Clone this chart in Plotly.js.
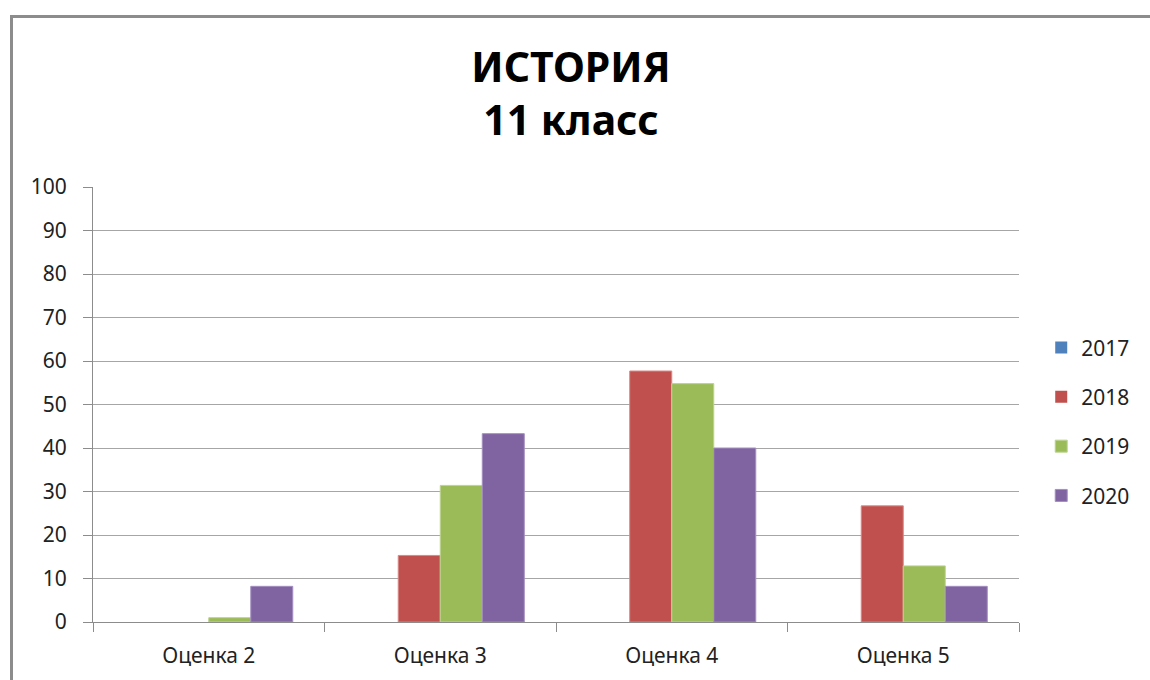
<!DOCTYPE html>
<html>
<head>
<meta charset="utf-8">
<script src="https://cdn.plot.ly/plotly-3.0.1.min.js"></script>
<style>
  html, body { margin: 0; padding: 0; background: #fff; }
  #frame { position: absolute; left: 10px; top: 15px; width: 1160px; height: 700px;
           border-left: 3px solid #8c8c8c; border-top: 3px solid #8c8c8c; box-sizing: border-box; }
  #chart { position: absolute; left: 0; top: 0; width: 1150px; height: 680px; }
</style>
</head>
<body>
<div id="frame"></div>
<div id="chart"></div>
<script>
const categories = ["Оценка 2", "Оценка 3", "Оценка 4", "Оценка 5"];
const years = ["2017", "2018", "2019", "2020"];
const values2017 = [0, 0, 0, 0];
const values2018 = [0, 15.3, 57.7, 26.7];
const values2019 = [1, 31.4, 54.8, 12.9];
const values2020 = [8.2, 43.3, 40, 8.2];
const yTicks = [0, 10, 20, 30, 40, 50, 60, 70, 80, 90, 100];
const colors = ["#4F81BD", "#C0504D", "#9BBB59", "#8064A2"];
const lineColors = ["#7fa3d0", "#d98886", "#bcd48f", "#a48fc0"];

const series = [values2017, values2018, values2019, values2020];
const FONT = "Noto Sans, Open Sans, sans-serif";

const data = series.map((vals, i) => ({
  type: "bar",
  name: years[i],
  x: categories,
  y: vals,
  legendgroup: years[i],
  marker: {
    color: colors[i],
    line: { color: lineColors[i], width: vals.map(v => (v > 0 ? 1 : 0)) }
  },
  hoverinfo: "x+y+name"
}));

const layout = {
  width: 1150,
  height: 680,
  paper_bgcolor: "rgba(0,0,0,0)",
  plot_bgcolor: "rgba(0,0,0,0)",
  margin: { l: 93, r: 131, t: 187, b: 58, autoexpand: false },
  title: {
    text: "<b>ИСТОРИЯ</b><br><b>11 класс</b>",
    font: { family: FONT, size: 41, color: "#000" },
    xref: "container", x: 0.4965, xanchor: "center",
    yref: "container", y: 1 - 82 / 680, yanchor: "top"
  },
  barmode: "group",
  bargap: 0.274,
  bargroupgap: 0,
  showlegend: true,
  legend: {
    x: 1.024, xanchor: "left",
    y: 0.46, yanchor: "middle",
    traceorder: "grouped",
    tracegroupgap: 19,
    font: { family: FONT, size: 21, color: "#222" },
    bgcolor: "rgba(0,0,0,0)"
  },
  xaxis: {
    type: "category",
    tickson: "boundaries",
    ticks: "outside",
    ticklen: 9,
    tickcolor: "#8c8c8c",
    showline: true,
    linecolor: "#8c8c8c",
    linewidth: 1,
    showgrid: false,
    tickfont: { family: FONT, size: 21, color: "#222" },
    ticklabelstandoff: 15
  },
  yaxis: {
    range: [0, 100],
    tickvals: yTicks,
    ticktext: yTicks.map(String),
    ticks: "outside",
    ticklen: 9,
    tickcolor: "#8c8c8c",
    showline: true,
    linecolor: "#8c8c8c",
    linewidth: 1,
    showgrid: true,
    gridcolor: "#a6a6a6",
    gridwidth: 1,
    zeroline: false,
    tickfont: { family: FONT, size: 21, color: "#222" },
    ticklabelstandoff: 12
  }
};

Plotly.newPlot("chart", data, layout, { displayModeBar: false, staticPlot: true });
</script>
</body>
</html>
